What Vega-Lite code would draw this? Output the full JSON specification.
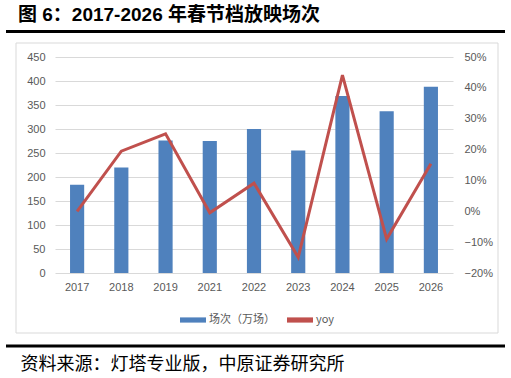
{
  "$schema": "https://vega.github.io/schema/vega-lite/v6.json",
  "width": 398,
  "height": 216,
  "autosize": {"type": "none"},
  "padding": {"left": 55, "top": 57, "right": 58, "bottom": 105},
  "background": "white",
  "config": {
    "view": {"stroke": null},
    "axis": {"labelFont": "Liberation Sans", "labelColor": "#595959", "labelFontSize": 11}
  },
  "title": {
    "text": "图 6：2017-2026 年春节档放映场次",
    "anchor": "start",
    "font": "Liberation Sans, Noto Sans CJK SC",
    "fontSize": 19,
    "fontWeight": "bold",
    "color": "#000000",
    "dx": 12,
    "dy": -1
  },
  "data": {
    "values": [
      {"year": "2017", "count": 184, "yoy": 0.0},
      {"year": "2018", "count": 220, "yoy": 0.195},
      {"year": "2019", "count": 276, "yoy": 0.251},
      {"year": "2021", "count": 275, "yoy": -0.005},
      {"year": "2022", "count": 300, "yoy": 0.091},
      {"year": "2023", "count": 255, "yoy": -0.149},
      {"year": "2024", "count": 369, "yoy": 0.441},
      {"year": "2025", "count": 337, "yoy": -0.09},
      {"year": "2026", "count": 388, "yoy": 0.154}
    ]
  },
  "layer": [
    {
      "data": {"values": [{}]},
      "mark": {"type": "rect", "fill": null, "stroke": "#d9d9d9", "strokeWidth": 1},
      "encoding": {"x": {"value": -39}, "x2": {"value": 443}, "y": {"value": -14}, "y2": {"value": 276}}
    },
    {
      "data": {"values": [{}]},
      "mark": {"type": "rect", "fill": "#000000", "stroke": null},
      "encoding": {"x": {"value": -49}, "x2": {"value": 450}, "y": {"value": -27}, "y2": {"value": -24}}
    },
    {
      "data": {"values": [{}]},
      "mark": {"type": "rect", "fill": "#000000", "stroke": null},
      "encoding": {"x": {"value": -49}, "x2": {"value": 450}, "y": {"value": 287.5}, "y2": {"value": 290.5}}
    },
    {
      "mark": {"type": "bar"},
      "encoding": {
        "x": {
          "field": "year", "type": "nominal",
          "scale": {"paddingInner": 0.68, "paddingOuter": 0.34},
          "axis": {
            "labelAngle": 0, "ticks": false, "domain": false, "labelPadding": 8, "grid": false,
            "title": "资料来源：灯塔专业版，中原证券研究所",
            "titleFont": "Noto Sans CJK SC", "titleFontSize": 18, "titleFontWeight": "normal",
            "titleColor": "#000000", "titleX": -35, "titleY": 96, "titleAlign": "left",
            "titleAnchor": "start", "titleBaseline": "alphabetic"
          }
        },
        "y": {
          "field": "count", "type": "quantitative",
          "scale": {"domain": [0, 450], "nice": false},
          "axis": {
            "orient": "left", "values": [0, 50, 100, 150, 200, 250, 300, 350, 400, 450],
            "title": null, "domain": false, "ticks": false, "labelPadding": 10,
            "gridColor": "#d9d9d9", "gridWidth": 1
          }
        },
        "color": {
          "datum": "场次（万场）",
          "scale": {"domain": ["场次（万场）", "yoy"], "range": ["#4f81bd", "#c0504d"]},
          "legend": {
            "title": null, "orient": "none", "legendX": 125, "legendY": 250, "direction": "horizontal",
            "symbolType": "M-1,-0.2H1V0.2H-1Z", "symbolSize": 676, "symbolStrokeWidth": 0,
            "labelFont": "Noto Sans CJK SC", "labelFontSize": 11, "labelColor": "#595959",
            "columnPadding": 12, "labelOffset": 3
          }
        }
      }
    },
    {
      "mark": {"type": "line", "strokeWidth": 3},
      "encoding": {
        "x": {"field": "year", "type": "nominal"},
        "y": {
          "field": "yoy", "type": "quantitative",
          "scale": {"domain": [-0.2, 0.5], "nice": false},
          "axis": {
            "orient": "right", "values": [-0.2, -0.1, 0, 0.1, 0.2, 0.3, 0.4, 0.5], "format": ".0%",
            "title": null, "domain": false, "ticks": false, "grid": false, "labelPadding": 11
          }
        },
        "color": {"datum": "yoy"}
      }
    }
  ],
  "resolve": {"scale": {"y": "independent"}}
}
